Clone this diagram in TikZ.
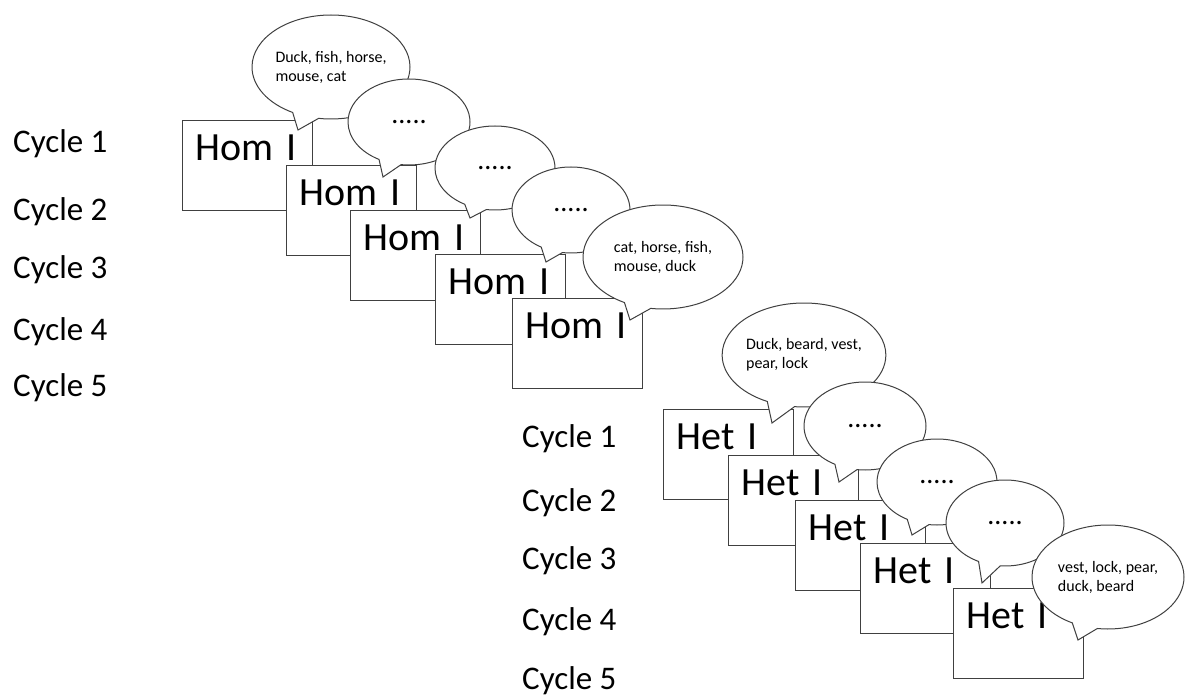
\documentclass[tikz,border=0pt]{standalone}
\usepackage{fontspec}
\setmainfont{Carlito}
\usetikzlibrary{shapes.callouts}
\tikzstyle{cyclelabel} = [anchor=base west, inner sep=0pt, font=\fontsize{33}{40}\selectfont]
\tikzstyle{trialbox} = [rectangle, draw=black!75, line width=1.1pt, fill=white, anchor=north west, inner xsep=13pt, inner ysep=0pt, text width=104pt, text height=40pt, text depth=50pt, align=left, font=\fontsize{40}{48}\selectfont]
\tikzstyle{wordbubble} = [ellipse callout, draw=black!75, line width=1pt, fill=white, inner sep=0pt, callout pointer arc=20, minimum width=158pt, minimum height=104pt, align=left, font=\fontsize{16}{19}\selectfont]
\tikzstyle{dotbubble} = [ellipse callout, draw=black!75, line width=1pt, fill=white, inner sep=0pt, callout pointer arc=22, minimum width=122pt, minimum height=86pt, font=\fontsize{28}{30}\selectfont]

\begin{document}
\begin{tikzpicture}[x=1pt, y=-1pt]
        \useasboundingbox (0,0) rectangle (1189,698);
        \node (homc1) [cyclelabel] at (13,153) {Cycle 1};
        \node (homc2) [cyclelabel] at (13,220) {Cycle 2};
        \node (homc3) [cyclelabel] at (13,278) {Cycle 3};
        \node (homc4) [cyclelabel] at (13,340) {Cycle 4};
        \node (homc5) [cyclelabel] at (13,396) {Cycle 5};
        \node (hom1) [trialbox] at (182,120) {Hom I};
        \node (hombub1) [wordbubble, callout absolute pointer={(298,130)}] at (331,67) {Duck, fish, horse,\\mouse, cat};
        \node (hom2) [trialbox] at (286,165) {Hom I};
        \node (hombub2) [dotbubble, callout absolute pointer={(383,177)}] at (409,122) {.....};
        \node (hom3) [trialbox] at (350,210) {Hom I};
        \node (hombub3) [dotbubble, callout absolute pointer={(470,218)}, minimum width=120pt, minimum height=84pt] at (495,168) {.....};
        \node (hom4) [trialbox] at (435,254) {Hom I};
        \node (hombub4) [dotbubble, callout absolute pointer={(546,262)}, minimum width=118pt] at (571,210) {.....};
        \node (hom5) [trialbox] at (512,298) {Hom I};
        \node (hombub5) [wordbubble, callout absolute pointer={(630,320)}, minimum width=160pt] at (663,257) {cat, horse, fish,\\mouse, duck};

        \node (hetc1) [cyclelabel] at (522,447) {Cycle 1};
        \node (hetc2) [cyclelabel] at (522,511) {Cycle 2};
        \node (hetc3) [cyclelabel] at (522,569) {Cycle 3};
        \node (hetc4) [cyclelabel] at (522,630) {Cycle 4};
        \node (hetc5) [cyclelabel] at (522,689) {Cycle 5};
        \node (het1) [trialbox] at (663,409) {Het I};
        \node (hetbub1) [wordbubble, callout absolute pointer={(772,423)}, minimum width=162pt] at (804,355) {Duck, beard, vest,\\pear, lock};
        \node (het2) [trialbox] at (728,455) {Het I};
        \node (hetbub2) [dotbubble, callout absolute pointer={(839,482)}, minimum height=88pt] at (865,426) {.....};
        \node (het3) [trialbox] at (795,500) {Het I};
        \node (hetbub3) [dotbubble, callout absolute pointer={(912,535)}, minimum width=120pt] at (937,482) {.....};
        \node (het4) [trialbox] at (860,543) {Het I};
        \node (hetbub4) [dotbubble, callout absolute pointer={(982,583)}, minimum width=118pt] at (1005,523) {.....};
        \node (het5) [trialbox] at (953,588) {Het I};
        \node (hetbub5) [wordbubble, callout absolute pointer={(1078,640)}, minimum width=152pt] at (1108,577) {vest, lock, pear,\\duck, beard};
    \end{tikzpicture}
\end{document}
